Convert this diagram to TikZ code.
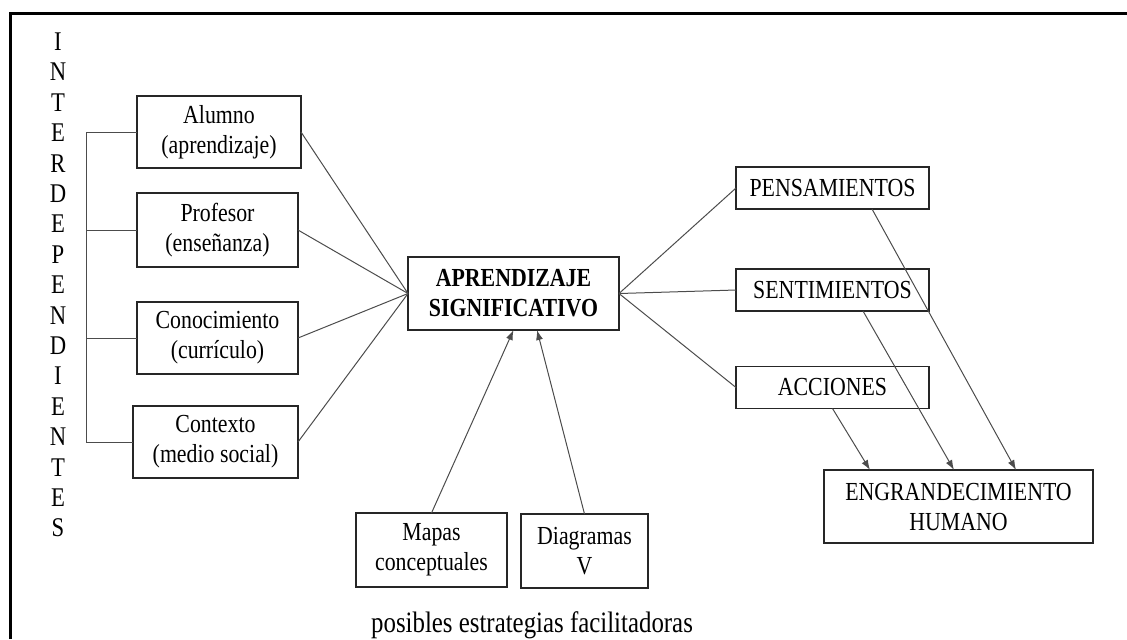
\documentclass[tikz,border=0pt]{standalone}
\usepackage{fontspec}
\setmainfont{Liberation Serif}[FakeStretch=0.84]
\usepackage{tikz}
\usetikzlibrary{arrows.meta}
\newcommand{\textosize}{\fontsize{13pt}{15pt}\selectfont}
\tikzstyle{caja}=[draw=black!85, line width=0.6pt, inner sep=0, outer sep=0, align=center, font=\textosize]
\tikzstyle{enlace}=[draw=black!70, line width=0.5pt]
\tikzstyle{flecha}=[enlace, -{Latex[length=5pt, width=3.5pt]}]

\begin{document}
\begin{tikzpicture}[x=0.5pt, y=-0.5pt]
        \useasboundingbox (0,0) rectangle (1127,639);
        % marco
        \draw[line width=1.5pt] (10,639) -- (10,13.5) -- (1127,13.5);
        \node[inner sep=0, align=center, font=\fontsize{13.5pt}{15.2pt}\selectfont] (inter) at (58,285)
            {I\\N\\T\\E\\R\\D\\E\\P\\E\\N\\D\\I\\E\\N\\T\\E\\S};
        \coordinate (llave) at (86,0);
        \node[caja, minimum width=82pt, minimum height=36pt] (alumno) at (219,132) {Alumno\\(aprendizaje)};
        \node[caja, minimum width=80.5pt, minimum height=37pt] (profesor) at (217.5,230) {Profesor\\(enseñanza)};
        \node[caja, minimum width=80.5pt, minimum height=36pt] (conocimiento) at (217.5,338) {Conocimiento\\(currículo)};
        \node[caja, minimum width=82.5pt, minimum height=36pt] (contexto) at (215.5,442) {Contexto\\(medio social)};
        \node[caja, font=\textosize\bfseries, minimum width=105.5pt, minimum height=36.5pt] (apr) at (513.5,293.5) {APRENDIZAJE\\SIGNIFICATIVO};
        \node[caja, minimum width=75.5pt, minimum height=37pt] (mapas) at (431.5,550) {Mapas\\conceptuales};
        \node[caja, minimum width=63.5pt, minimum height=37pt] (diagramas) at (584.5,551) {Diagramas\\V};
        \node[font=\fontsize{14.8pt}{17pt}\selectfont, inner sep=0] (estrategias) at (532,625) {posibles estrategias facilitadoras};
        \node[caja, minimum width=96.5pt, minimum height=21pt] (pens) at (832.5,188) {PENSAMIENTOS};
        \node[caja, minimum width=96.5pt, minimum height=21pt] (sent) at (832.5,290) {SENTIMIENTOS};
        \node[caja, minimum width=96.5pt, minimum height=21pt] (acc) at (832.5,387.5) {ACCIONES};
        \node[caja, minimum width=134.5pt, minimum height=36.5pt] (eng) at (958.5,506.5) {ENGRANDECIMIENTO\\HUMANO};
        % llave de la izquierda
        \draw[enlace] (alumno.west) -- (alumno.west -| llave) -- (contexto.west -| llave) -- (contexto.west);
        \draw[enlace] (profesor.west) -- (profesor.west -| llave);
        \draw[enlace] (conocimiento.west) -- (conocimiento.west -| llave);
        \foreach \n in {alumno, profesor, conocimiento, contexto}
            \draw[enlace] (\n.east) -- (apr.west);
        \foreach \n in {pens, sent, acc}
            \draw[enlace] (apr.east) -- (\n.west);
        \draw[flecha] (mapas.north) -- (apr.south);
        \draw[flecha] (diagramas.north) -- ([xshift=11.75pt]apr.south);
        \draw[flecha] ([xshift=19.75pt]pens.south) -- ([xshift=28.75pt]eng.north);
        \draw[flecha] ([xshift=15.25pt]sent.south) -- ([xshift=-2.25pt]eng.north);
        \draw[flecha] (acc.south) -- ([xshift=-44.25pt]eng.north);
\end{tikzpicture}
\end{document}
